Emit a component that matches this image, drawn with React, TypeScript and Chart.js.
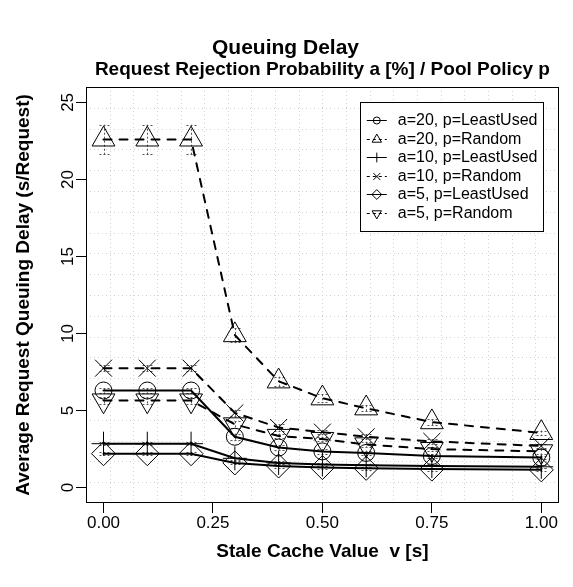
import React, { useEffect, useRef } from 'react';
import { Chart, registerables } from 'chart.js';

Chart.register(...registerables);

// ---- data ----
const xValues = [0, 0.1, 0.2, 0.3, 0.4, 0.5, 0.6, 0.75, 1.0];
const a20LeastUsed = [6.3, 6.3, 6.3, 3.3, 2.6, 2.35, 2.25, 2.05, 1.95];
const a20Random = [22.6, 22.6, 22.6, 9.9, 6.9, 5.8, 5.15, 4.25, 3.55];
const a10LeastUsed = [2.85, 2.85, 2.85, 1.9, 1.6, 1.5, 1.45, 1.4, 1.35];
const a10Random = [7.75, 7.75, 7.75, 4.85, 3.9, 3.6, 3.3, 3.0, 2.7];
const a5LeastUsed = [2.2, 2.2, 2.2, 1.6, 1.4, 1.3, 1.25, 1.2, 1.15];
const a5Random = [5.65, 5.65, 5.65, 4.1, 3.35, 3.15, 2.8, 2.5, 2.35];

// half-widths of the error bars (estimated)
const a20LeastUsedErr = [0.15, 0.15, 0.15, 0.2, 0.15, 0.15, 0.15, 0.1, 0.1];
const a20RandomErr = [0.95, 0.95, 0.95, 0.45, 0.3, 0.25, 0.2, 0.2, 0.15];
const a10LeastUsedErr = [0.1, 0.1, 0.1, 0.1, 0.1, 0.1, 0.1, 0.1, 0.1];
const a10RandomErr = [0.2, 0.2, 0.2, 0.2, 0.2, 0.15, 0.15, 0.15, 0.15];
const a5LeastUsedErr = [0.1, 0.1, 0.1, 0.1, 0.1, 0.1, 0.1, 0.1, 0.1];
const a5RandomErr = [0.2, 0.2, 0.2, 0.2, 0.15, 0.15, 0.15, 0.15, 0.15];

const seriesLabels = [
  'a=20, p=LeastUsed',
  'a=20, p=Random',
  'a=10, p=LeastUsed',
  'a=10, p=Random',
  'a=5, p=LeastUsed',
  'a=5, p=Random',
];
const seriesValues = [a20LeastUsed, a20Random, a10LeastUsed, a10Random, a5LeastUsed, a5Random];
const seriesErrors = [a20LeastUsedErr, a20RandomErr, a10LeastUsedErr, a10RandomErr, a5LeastUsedErr, a5RandomErr];

const xTicks = [0, 0.25, 0.5, 0.75, 1.0];
const yTicks = [0, 5, 10, 15, 20, 25];
const xMin = -0.04, xMax = 1.04;
const yMin = -1, yMax = 26;
const gridDivisions = 20;

const titleText = 'Queuing Delay';
const subtitleText = 'Request Rejection Probability a [%] / Pool Policy p';
const xTitle = 'Stale Cache Value  v [s]';
const yTitle = 'Average Request Queuing Delay (s/Request)';

// ---- styles ----
const FONT = "'Liberation Sans', Arial, Helvetica, sans-serif";
const markerStyles = [
  { style: 'circle', radius: 8.5, rotation: 0, dashed: false },
  { style: 'triangle', radius: 13.2, rotation: 0, dashed: true },
  { style: 'cross', radius: 12, rotation: 0, dashed: false },
  { style: 'crossRot', radius: 12, rotation: 0, dashed: true },
  { style: 'rectRot', radius: 12, rotation: 0, dashed: false },
  { style: 'triangle', radius: 13.2, rotation: 180, dashed: true },
];

function drawMarker(ctx: CanvasRenderingContext2D, style: string, x: number, y: number, r: number, rotation: number) {
  ctx.beginPath();
  if (style === 'circle') {
    ctx.arc(x, y, r, 0, Math.PI * 2);
  } else if (style === 'triangle') {
    let rad = (rotation * Math.PI) / 180;
    for (let i = 0; i < 3; i++) {
      const px = x + Math.sin(rad) * r;
      const py = y - Math.cos(rad) * r;
      if (i === 0) ctx.moveTo(px, py); else ctx.lineTo(px, py);
      rad += (2 * Math.PI) / 3;
    }
    ctx.closePath();
  } else if (style === 'cross') {
    ctx.moveTo(x - r, y); ctx.lineTo(x + r, y);
    ctx.moveTo(x, y - r); ctx.lineTo(x, y + r);
  } else if (style === 'crossRot') {
    const d = r * Math.SQRT1_2;
    ctx.moveTo(x - d, y - d); ctx.lineTo(x + d, y + d);
    ctx.moveTo(x - d, y + d); ctx.lineTo(x + d, y - d);
  } else if (style === 'rectRot') {
    ctx.moveTo(x, y - r); ctx.lineTo(x + r, y); ctx.lineTo(x, y + r); ctx.lineTo(x - r, y);
    ctx.closePath();
  }
  ctx.stroke();
}

const backgroundGridPlugin = {
  id: 'rGrid',
  beforeDatasetsDraw(chart: any) {
    const { ctx, chartArea } = chart;
    const xs = chart.scales.x;
    const ys = chart.scales.y;
    ctx.save();
    ctx.strokeStyle = '#d3d3d3';
    ctx.lineWidth = 1;
    ctx.setLineDash([1, 3]);
    for (let k = 1; k < gridDivisions; k++) {
      const vx = xMin + ((xMax - xMin) * k) / gridDivisions;
      const px = Math.round(xs.getPixelForValue(vx)) + 0.5;
      ctx.beginPath();
      ctx.moveTo(px, chartArea.top);
      ctx.lineTo(px, chartArea.bottom);
      ctx.stroke();
      const vy = yMin + ((yMax - yMin) * k) / gridDivisions;
      const py = Math.round(ys.getPixelForValue(vy)) + 0.5;
      ctx.beginPath();
      ctx.moveTo(chartArea.left, py);
      ctx.lineTo(chartArea.right, py);
      ctx.stroke();
    }
    ctx.setLineDash([]);
    ctx.strokeStyle = '#000';
    ctx.strokeRect(
      Math.round(chartArea.left) + 0.5,
      Math.round(chartArea.top) + 0.5,
      Math.round(chartArea.right - chartArea.left) - 1,
      Math.round(chartArea.bottom - chartArea.top) - 1
    );
    // error bars
    ctx.strokeStyle = '#555';
    ctx.lineWidth = 1;
    ctx.setLineDash([2, 2]);
    chart.data.datasets.forEach((ds: any, i: number) => {
      const errs = seriesErrors[i];
      ds.data.forEach((pt: any, j: number) => {
        const px = Math.round(xs.getPixelForValue(pt.x)) + 0.5;
        const yHi = ys.getPixelForValue(pt.y + errs[j]);
        const yLo = ys.getPixelForValue(pt.y - errs[j]);
        ctx.beginPath();
        ctx.moveTo(px, yHi);
        ctx.lineTo(px, yLo);
        ctx.moveTo(px - 5, Math.round(yHi) + 0.5);
        ctx.lineTo(px + 5, Math.round(yHi) + 0.5);
        ctx.moveTo(px - 5, Math.round(yLo) + 0.5);
        ctx.lineTo(px + 5, Math.round(yLo) + 0.5);
        ctx.stroke();
      });
    });
    ctx.restore();
  },
};

const legendBoxPlugin = {
  id: 'rLegend',
  afterDatasetsDraw(chart: any) {
    const { ctx, chartArea } = chart;
    const right = chartArea.right - 16;
    const left = right - 183;
    const top = chartArea.top + 15;
    const rowH = 18.5;
    const bottom = top + rowH * 6 + 18;
    ctx.save();
    ctx.fillStyle = '#fff';
    ctx.fillRect(left, top, right - left, bottom - top);
    ctx.strokeStyle = '#000';
    ctx.lineWidth = 1;
    ctx.strokeRect(Math.round(left) + 0.5, Math.round(top) + 0.5, Math.round(right - left), Math.round(bottom - top));
    ctx.font = `16px ${FONT}`;
    ctx.textBaseline = 'middle';
    ctx.textAlign = 'left';
    chart.data.datasets.forEach((ds: any, i: number) => {
      const y = Math.round(top + 18 + i * rowH) + 0.5;
      const m = markerStyles[i];
      ctx.strokeStyle = '#000';
      ctx.lineWidth = 1;
      ctx.setLineDash(m.dashed ? [3, 3] : []);
      ctx.beginPath();
      ctx.moveTo(left + 7, y);
      ctx.lineTo(left + 27, y);
      ctx.stroke();
      ctx.setLineDash([]);
      const mr = m.style === 'circle' ? 3.5 : m.style === 'triangle' ? 5.4 : 4.9;
      drawMarker(ctx, m.style, left + 17, y, mr, m.rotation);
      ctx.fillStyle = '#000';
      ctx.fillText(ds.label, left + 38, y);
    });
    ctx.restore();
  },
};

export default function App() {
  const canvasRef = useRef<HTMLCanvasElement | null>(null);

  useEffect(() => {
    const canvas = canvasRef.current;
    if (!canvas) return;
    const datasets = seriesLabels.map((label, i) => {
      const m = markerStyles[i];
      return {
        label,
        data: xValues.map((x, j) => ({ x, y: seriesValues[i][j] })),
        showLine: true,
        borderColor: '#000',
        borderWidth: 2,
        borderDash: m.dashed ? [8, 8] : [],
        borderCapStyle: 'round',
        tension: 0,
        fill: false,
        pointStyle: m.style,
        pointRadius: m.radius,
        pointRotation: m.rotation,
        pointBorderColor: '#000',
        pointBackgroundColor: 'rgba(0,0,0,0)',
        pointBorderWidth: 1,
      };
    });

    const chart = new Chart(canvas, {
      type: 'scatter',
      data: { datasets: datasets as any },
      plugins: [backgroundGridPlugin, legendBoxPlugin],
      options: {
        animation: false,
        responsive: false,
        events: [],
        layout: { padding: { left: 0, right: 2, top: 0, bottom: 0 } },
        plugins: {
          legend: { display: false },
          tooltip: { enabled: false },
          title: {
            display: true,
            text: titleText,
            color: '#000',
            font: { family: FONT, size: 21, weight: 'bold' },
            padding: { top: 36, bottom: -3 },
          },
          subtitle: {
            display: true,
            text: subtitleText,
            color: '#000',
            fullSize: false,
            font: { family: FONT, size: 19, weight: 'bold' },
            padding: { top: 0, bottom: 6 },
          },
        },
        scales: {
          x: {
            type: 'linear',
            min: xMin,
            max: xMax,
            afterBuildTicks: (s: any) => {
              s.ticks = xTicks.map((v) => ({ value: v }));
            },
            afterFit: (s: any) => {
              s.height = 84;
            },
            ticks: {
              autoSkip: false,
              maxRotation: 0,
              color: '#000',
              padding: 0,
              font: { family: FONT, size: 17 },
              callback: (v: any) => Number(v).toFixed(2),
            },
            grid: { display: true, drawOnChartArea: false, drawTicks: true, tickLength: 10, tickColor: '#000', tickWidth: 1 },
            border: { display: false },
            title: {
              display: true,
              text: xTitle,
              color: '#000',
              font: { family: FONT, size: 19, weight: 'bold' },
              padding: { top: 0, bottom: 24 },
            },
          },
          y: {
            type: 'linear',
            min: yMin,
            max: yMax,
            afterBuildTicks: (s: any) => {
              s.ticks = yTicks.map((v) => ({ value: v }));
            },
            afterFit: (s: any) => {
              s.width = 86;
            },
            ticks: {
              autoSkip: false,
              minRotation: 90,
              maxRotation: 90,
              crossAlign: 'center',
              color: '#000',
              padding: -2,
              font: { family: FONT, size: 17 },
              callback: (v: any) => String(v),
            },
            grid: { display: true, drawOnChartArea: false, drawTicks: true, tickLength: 10, tickColor: '#000', tickWidth: 1 },
            border: { display: false },
            title: {
              display: true,
              text: yTitle,
              color: '#000',
              font: { family: FONT, size: 19, weight: 'bold' },
              padding: { top: 12, bottom: 0 },
            },
          },
        },
      } as any,
    });
    return () => chart.destroy();
  }, []);

  return (
    <div style={{ position: 'fixed', left: 0, top: 0, width: 573, height: 587, background: '#fff' }}>
      <canvas ref={canvasRef} width={573} height={587} />
    </div>
  );
}
